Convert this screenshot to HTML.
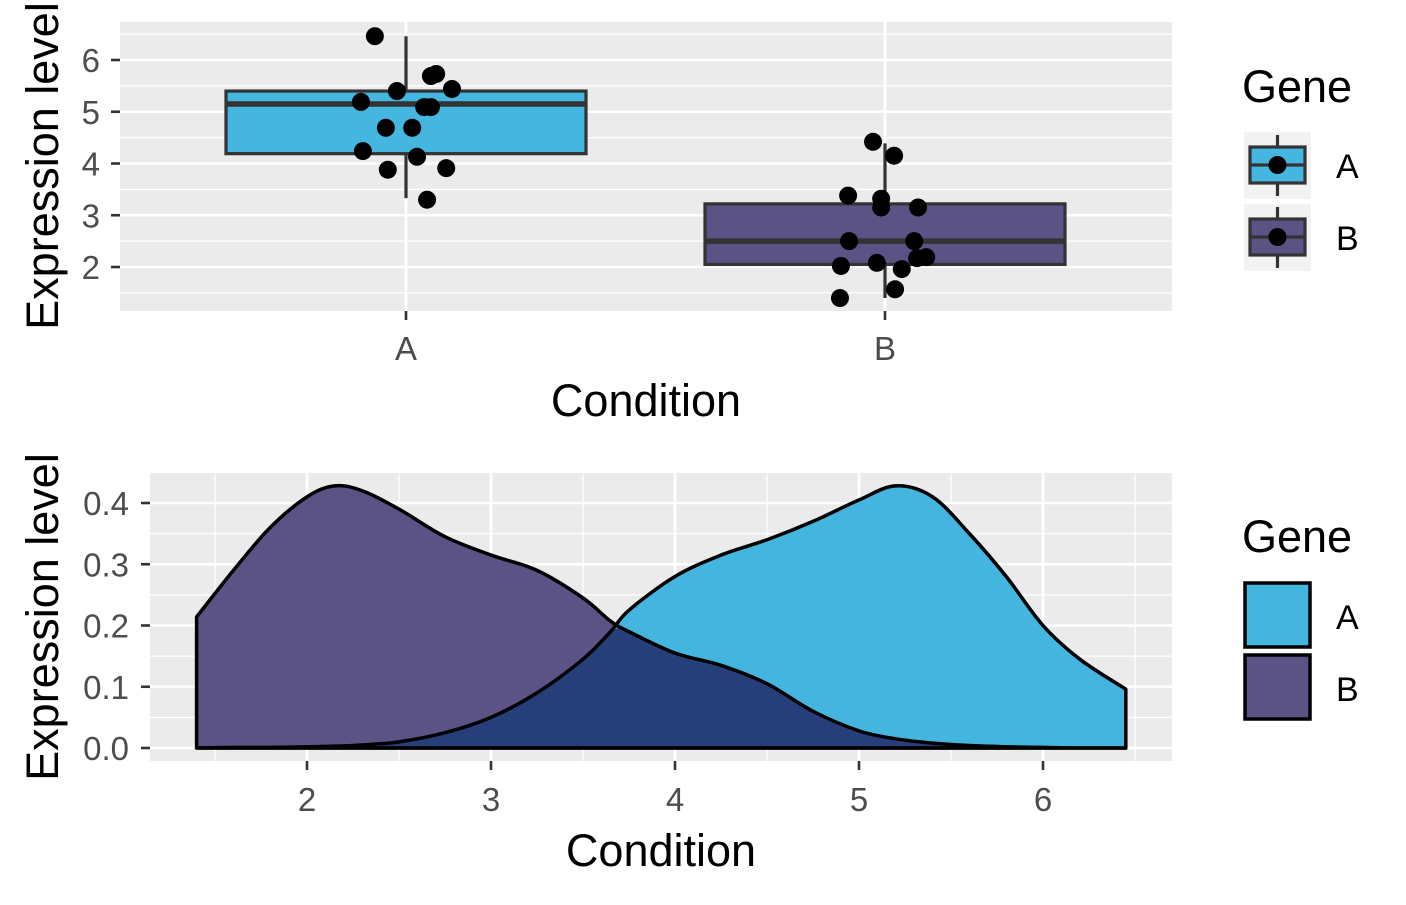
<!DOCTYPE html>
<html><head><meta charset="utf-8"><style>
body{margin:0;background:#fff;font-family:"Liberation Sans",sans-serif}
</style></head><body>
<svg id="chart" width="1406" height="900" xmlns="http://www.w3.org/2000/svg" font-family="Liberation Sans, sans-serif">
<g id="topPanel"></g>
<g id="botPanel"></g>
</svg>
<script>
const categories=["A","B"];
const boxLow=[4.19,2.05], boxMed=[5.15,2.5], boxHigh=[5.40,3.22], whiskLow=[3.33,1.40], whiskHigh=[6.46,4.39];
const ptsAVal=[6.46,5.69,5.73,5.40,5.44,5.19,5.09,5.09,4.69,4.69,4.24,4.13,3.91,3.88,3.30];
const ptsAJit=[-0.065,0.052,0.063,-0.019,0.096,-0.094,0.038,0.052,-0.042,0.013,-0.090,0.023,0.084,-0.038,0.044];
const ptsBVal=[4.42,4.15,3.38,3.32,3.15,3.15,2.50,2.50,2.08,2.02,2.19,2.17,1.96,1.57,1.40];
const ptsBJit=[-0.025,0.019,-0.077,-0.008,-0.008,0.069,-0.075,0.061,-0.017,-0.092,0.086,0.067,0.035,0.021,-0.094];
const yTicksTop=[2,3,4,5,6];
const densX=[1.4,1.6,1.8,2,2.15,2.3,2.5,2.75,3,3.25,3.5,3.65,3.75,4,4.25,4.5,4.75,5,5.2,5.4,5.6,5.8,6,6.2,6.45];
const densA=[0,0.001,0.001,0.002,0.003,0.005,0.01,0.025,0.05,0.09,0.145,0.19,0.225,0.28,0.315,0.34,0.37,0.405,0.428,0.41,0.35,0.28,0.2,0.145,0.096];
const densB=[0.214,0.29,0.36,0.41,0.428,0.42,0.39,0.345,0.315,0.29,0.245,0.207,0.19,0.155,0.135,0.105,0.06,0.028,0.015,0.008,0.004,0.002,0.001,0,0];
const xTicksBot=[2,3,4,5,6];
const yTicksBot=[0,0.1,0.2,0.3,0.4];
const NS="http://www.w3.org/2000/svg";
const TF=33, TT=45;
function mk(p,t,a,txt){const e=document.createElementNS(NS,t);for(const k in a)e.setAttribute(k,a[k]);if(txt!==undefined)e.textContent=txt;p.appendChild(e);return e;}
const topG=document.getElementById('topPanel'),botG=document.getElementById('botPanel');
// TOP
const ty=v=>60+(6-v)*51.75, tx=i=>406+i*479;
let bg=mk(topG,'rect',{x:120,y:22,width:1052,height:289,fill:'#ebebeb'});


for(let v=1.5;v<=6.5;v+=1) mk(topG,'line',{x1:120,x2:1172,y1:ty(v),y2:ty(v),stroke:'#fff','stroke-width':1.3});
yTicksTop.forEach(v=>{mk(topG,'line',{x1:120,x2:1172,y1:ty(v),y2:ty(v),stroke:'#fff','stroke-width':2.6});
 mk(topG,'line',{x1:111,x2:120,y1:ty(v),y2:ty(v),stroke:'#333','stroke-width':2.6});
 const t=mk(topG,'text',{x:100,y:ty(v)+12,'font-size':TF,fill:'#4d4d4d','text-anchor':'end'},String(v));
 
 });
const fills=['#44b6e0','#5b5285'];
categories.forEach((c,i)=>{const x=tx(i);
 mk(topG,'line',{x1:x,x2:x,y1:22,y2:311,stroke:'#fff','stroke-width':2.6});
 mk(topG,'line',{x1:x,x2:x,y1:311,y2:320,stroke:'#333','stroke-width':2.6});
 const t=mk(topG,'text',{x:x,y:360,'font-size':TF,fill:'#4d4d4d','text-anchor':'middle'},c);
 
 });
categories.forEach((c,i)=>{const x=tx(i),g=mk(topG,'g',{});
 
 
 mk(g,'line',{x1:x,x2:x,y1:ty(whiskHigh[i]),y2:ty(whiskLow[i]),stroke:'#333','stroke-width':3.2});
 mk(g,'rect',{x:x-180,y:ty(boxHigh[i]),width:360,height:ty(boxLow[i])-ty(boxHigh[i]),fill:fills[i],stroke:'#333','stroke-width':3.2});
 mk(g,'line',{x1:x-180,x2:x+180,y1:ty(boxMed[i]),y2:ty(boxMed[i]),stroke:'#333','stroke-width':5.5});});
[[ptsAVal,ptsAJit,0],[ptsBVal,ptsBJit,1]].forEach(([vals,jit,i])=>vals.forEach((v,k)=>{
 const c=mk(topG,'circle',{cx:tx(i)+jit[k]*479,cy:ty(v),r:9,fill:'#000'});
 
 }));
let tt=mk(topG,'text',{x:646,y:416,'font-size':TT,'text-anchor':'middle'},'Condition');


tt=mk(topG,'text',{x:0,y:0,'font-size':TT,'text-anchor':'middle',transform:'translate(58,166) rotate(-90)'},'Expression level');


tt=mk(topG,'text',{x:1242,y:102,'font-size':TT},'Gene');


categories.forEach((c,i)=>{const y0=132+i*72,g=mk(topG,'g',{});
 
 
 mk(g,'rect',{x:1244,y:y0,width:67,height:67,fill:'#f2f2f2'});
 mk(g,'line',{x1:1277.5,x2:1277.5,y1:y0+3,y2:y0+64,stroke:'#333','stroke-width':3.2});
 mk(g,'rect',{x:1250,y:y0+15,width:55,height:36,fill:fills[i],stroke:'#333','stroke-width':3.2});
 mk(g,'line',{x1:1250,x2:1305,y1:y0+33,y2:y0+33,stroke:'#333','stroke-width':3.2});
 mk(g,'circle',{cx:1277.5,cy:y0+33,r:9,fill:'#000'});
 mk(g,'text',{x:1336,y:y0+46,'font-size':34},c);});
// BOTTOM
const bx=v=>307+(v-2)*184, by=v=>748-v*612.5;
bg=mk(botG,'rect',{x:150,y:473,width:1022,height:288,fill:'#ebebeb'});


for(let v=1.5;v<=6.5;v+=1) mk(botG,'line',{x1:bx(v),x2:bx(v),y1:473,y2:761,stroke:'#fff','stroke-width':1.3});
for(let v=0.05;v<0.46;v+=0.1) mk(botG,'line',{x1:150,x2:1172,y1:by(v),y2:by(v),stroke:'#fff','stroke-width':1.3});
xTicksBot.forEach(v=>{mk(botG,'line',{x1:bx(v),x2:bx(v),y1:473,y2:761,stroke:'#fff','stroke-width':2.6});
 mk(botG,'line',{x1:bx(v),x2:bx(v),y1:761,y2:770,stroke:'#333','stroke-width':2.6});
 const t=mk(botG,'text',{x:bx(v),y:811,'font-size':TF,fill:'#4d4d4d','text-anchor':'middle'},String(v));
 
 });
yTicksBot.forEach(v=>{mk(botG,'line',{x1:150,x2:1172,y1:by(v),y2:by(v),stroke:'#fff','stroke-width':2.6});
 mk(botG,'line',{x1:141,x2:150,y1:by(v),y2:by(v),stroke:'#333','stroke-width':2.6});
 const t=mk(botG,'text',{x:129,y:by(v)+12,'font-size':TF,fill:'#4d4d4d','text-anchor':'end'},v.toFixed(1));
 
 });
function spline(ys){const P=densX.map((x,i)=>[bx(x),by(ys[i])]);let d='M'+P[0][0]+','+P[0][1];
 for(let i=0;i<P.length-1;i++){const p0=P[Math.max(0,i-1)],p1=P[i],p2=P[i+1],p3=P[Math.min(P.length-1,i+2)];
  d+=` C${p1[0]+(p2[0]-p0[0])/6},${p1[1]+(p2[1]-p0[1])/6} ${p2[0]-(p3[0]-p1[0])/6},${p2[1]-(p3[1]-p1[1])/6} ${p2[0]},${p2[1]}`;}return d;}
const base=by(0), x0=bx(densX[0]), x1=bx(densX[densX.length-1]);
const closeP=d=>d+` L${x1},${base} L${x0},${base} Z`;
const minY=densA.map((a,i)=>Math.min(a,densB[i]));
let p=mk(botG,'path',{d:closeP(spline(densB)),fill:'#5b5285'});


p=mk(botG,'path',{d:closeP(spline(densA)),fill:'#44b5df'});


p=mk(botG,'path',{d:closeP(spline(minY)),fill:'#263f7b'});


mk(botG,'path',{d:closeP(spline(densB)),fill:'none',stroke:'#000','stroke-width':3.5,'stroke-linejoin':'round'});
mk(botG,'path',{d:closeP(spline(densA)),fill:'none',stroke:'#000','stroke-width':3.5,'stroke-linejoin':'round'});
tt=mk(botG,'text',{x:661,y:866,'font-size':TT,'text-anchor':'middle'},'Condition');


tt=mk(botG,'text',{x:0,y:0,'font-size':TT,'text-anchor':'middle',transform:'translate(58,617) rotate(-90)'},'Expression level');


tt=mk(botG,'text',{x:1242,y:552,'font-size':TT},'Gene');


const lf=['#44b5df','#5b5285'];
categories.forEach((c,i)=>{const y0=583+i*72,g=mk(botG,'g',{});
 
 
 mk(g,'rect',{x:1245,y:y0,width:65,height:64,fill:lf[i],stroke:'#000','stroke-width':3.5});
 mk(g,'text',{x:1336,y:y0+46,'font-size':34},c);});
</script>
</body></html>
